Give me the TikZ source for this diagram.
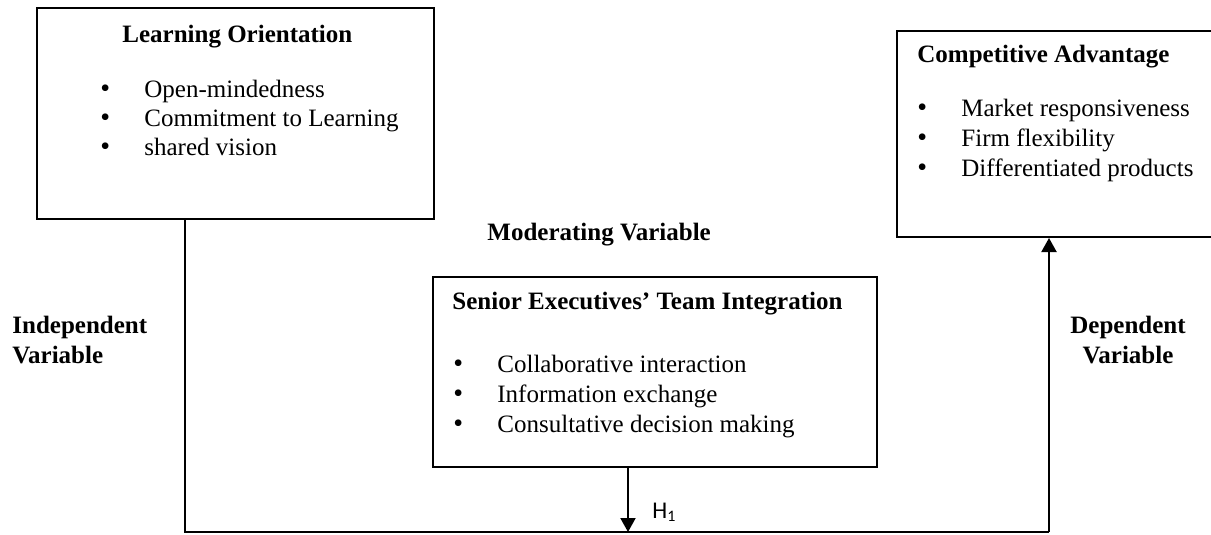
\documentclass[tikz,border=0pt]{standalone}
\usepackage{fontspec}
\setmainfont{Liberation Serif}
\newfontfamily\hfont{Carlito}
\usetikzlibrary{arrows.meta,calc}

\newcommand{\bigdot}{{\fontsize{14}{14}\selectfont\textbullet}}
\newcommand{\bulletrows}[2]{{\fontsize{12.5}{#1}\selectfont
  \begin{tabular}[t]{@{}p{22pt}@{}l@{}}#2\end{tabular}}}
\newcommand{\tworows}[3]{{\fontsize{12.5}{15}\selectfont\bfseries
  \begin{tabular}[t]{@{}#1@{}}#2\\#3\end{tabular}}}

\tikzset{
  box/.style={draw, line width=1pt, inner sep=0pt},
  head/.style={font=\fontsize{12.5}{14}\selectfont\bfseries, anchor=base west, inner sep=0pt},
  items/.style={anchor=base west, inner sep=0pt},
  flow/.style={line width=1pt},
  arr/.style={flow, -{Triangle[width=7.5pt,length=7pt]}}
}

\begin{document}
\begin{tikzpicture}[x=0.5pt,y=-0.5pt]
\useasboundingbox (0,0) rectangle (1211,535);

% the three boxes
\node[box, minimum width=198.5pt, minimum height=105.5pt] (lo) at (235.5,113.5) {};
\node[box, minimum width=157.5pt, minimum height=103pt] (ca) at (1054.5,134) {};
\node[box, minimum width=222pt, minimum height=95pt] (st) at (655,372) {};

% box contents
\node[head] (lo title) at (122,43) {Learning Orientation};
\node[items] (lo list) at (100,98) {\bulletrows{14.4pt}{%
  \bigdot & Open-mindedness\\
  \bigdot & Commitment to Learning\\
  \bigdot & shared vision}};

\node[head] (ca title) at (917,63) {Competitive Advantage};
\node[items] (ca list) at (917,117) {\bulletrows{15pt}{%
  \bigdot & Market responsiveness\\
  \bigdot & Firm flexibility\\
  \bigdot & Differentiated products}};

\node[head] (st title) at (452,309) {Senior Executives’ Team Integration};
\node[items] (st list) at (453,372) {\bulletrows{15pt}{%
  \bigdot & Collaborative interaction\\
  \bigdot & Information exchange\\
  \bigdot & Consultative decision making}};

% variable labels
\node[head] (mod) at (487,241) {Moderating Variable};
\node[items] (indep) at (12,333) {\tworows{l}{Independent}{Variable}};
\node[anchor=base, inner sep=0pt] (dep) at (1128,333) {\tworows{c}{Dependent}{Variable}};

% connectors
\coordinate (lo foot) at ($(lo.south)+(-50.5,0)$);
\coordinate (ca foot) at ($(ca.south)+(-5.5,0)$);
\coordinate (st foot) at ($(st.south)+(-27,0)$);
\coordinate (base) at (0,532);
\draw[flow] (lo foot) |- (base -| ca foot);
\draw[arr] (base -| ca foot) -- (ca foot);
\draw[arr] (st foot) -- (st foot |- base);
\node[anchor=base west, inner sep=0pt, font=\hfont\fontsize{12}{14}\selectfont] (h1) at (652,518) {H\textsubscript{1}};
\end{tikzpicture}
\end{document}
